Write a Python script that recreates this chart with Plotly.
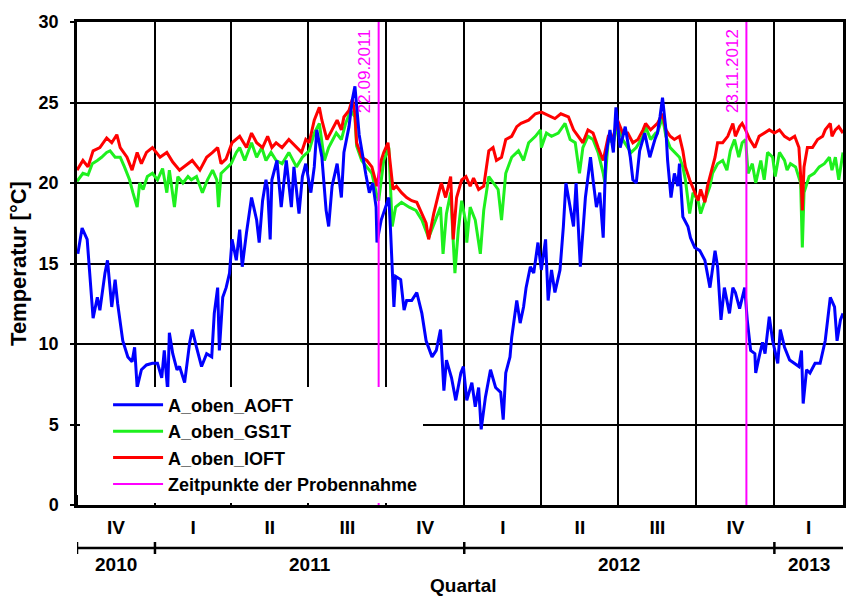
import pandas as pd
import plotly.graph_objects as go

START = "2010-10-01"          # first day shown on the time axis
N_DAYS = 904                  # length of the visible period (days)

# ---- A_oben_AOFT (blue): day offset from START, temperature [°C]
aoft_day = [1, 6, 12, 15, 19, 24, 27, 33, 36, 41, 45, 48, 54, 60, 65, 68, 71, 76, 82, 89,
            95, 100, 103, 107, 109, 113, 118, 121, 127, 133, 136, 141, 147, 153, 159, 162, 166, 168, 172, 176,
            180, 183, 188, 192, 195, 200, 206, 212, 215, 219, 223, 225, 228, 230, 236, 241, 247, 253, 256, 262,
            266, 270, 276, 280, 283, 289, 294, 297, 301, 307, 312, 315, 321, 325, 328, 333, 336, 341, 345, 349,
            353, 354, 359, 365, 368, 370, 374, 376, 382, 386, 389, 395, 401, 407, 412, 419, 424, 429, 433, 436,
            442, 447, 453, 456, 460, 466, 470, 474, 477, 482, 488, 494, 500, 503, 506, 511, 513, 519, 523, 527,
            530, 535, 539, 544, 548, 553, 556, 560, 564, 570, 574, 577, 582, 586, 589, 594, 600, 606, 609, 613,
            617, 621, 624, 629, 633, 636, 641, 647, 653, 656, 660, 664, 670, 676, 682, 685, 688, 691, 695, 697,
            701, 705, 709, 711, 715, 721, 724, 729, 735, 741, 747, 753, 756, 760, 764, 770, 774, 777, 782, 785,
            788, 791, 795, 800, 801, 805, 809, 812, 817, 821, 827, 830, 835, 841, 847, 852, 855, 857, 861, 865,
            871, 877, 883, 889, 894, 897, 901, 904]
aoft_val = [15.6, 17.2, 16.5, 14.6, 11.6, 12.9, 12.1, 14.4, 15.2, 12.3, 14.0, 12.5, 10.2, 9.2, 8.9, 9.8, 7.3, 8.4, 8.7, 8.8,
            8.8, 7.9, 9.6, 7.1, 10.7, 9.4, 8.4, 8.6, 7.6, 10.1, 10.9, 9.8, 8.6, 9.4, 9.2, 11.9, 13.5, 9.6, 12.9, 13.5,
            14.4, 16.5, 15.2, 17.1, 14.8, 16.9, 19.1, 17.7, 16.3, 18.9, 20.2, 19.6, 16.5, 20.2, 21.4, 18.5, 21.4, 18.5, 21.0, 18.1,
            20.4, 21.2, 19.4, 21.0, 23.3, 21.6, 18.3, 17.3, 19.8, 21.2, 19.1, 21.9, 23.5, 25.2, 26.0, 23.0, 22.0, 20.5, 19.4, 20.0,
            18.5, 16.3, 17.7, 18.7, 19.1, 17.1, 12.3, 14.2, 14.0, 12.1, 12.7, 12.7, 13.2, 11.9, 10.2, 9.2, 9.6, 10.9, 7.1, 9.0,
            7.9, 6.5, 8.2, 8.6, 6.5, 7.6, 6.1, 7.3, 4.7, 6.7, 8.4, 7.3, 7.0, 5.3, 8.2, 9.2, 10.4, 12.7, 11.3, 12.3,
            13.5, 14.8, 14.4, 16.3, 14.6, 16.5, 12.7, 14.6, 13.2, 14.6, 17.3, 20.0, 18.5, 17.3, 20.0, 14.8, 19.1, 21.6, 20.2, 18.5,
            19.4, 16.6, 21.6, 23.3, 21.9, 24.7, 22.2, 23.5, 21.6, 20.2, 20.0, 22.0, 23.1, 21.6, 22.7, 23.1, 24.1, 25.3, 23.3, 21.4,
            19.1, 20.6, 19.8, 21.2, 17.9, 17.3, 16.6, 16.0, 15.8, 15.2, 13.5, 15.8, 14.8, 11.5, 13.5, 11.9, 13.5, 13.2, 12.2, 12.9,
            13.5, 11.5, 9.6, 9.4, 8.2, 9.2, 10.1, 9.4, 11.7, 10.2, 8.8, 10.9, 9.8, 9.0, 8.8, 8.6, 9.6, 6.3, 8.4, 8.2,
            8.8, 8.8, 10.2, 12.9, 12.3, 10.2, 11.5, 11.9]

# ---- A_oben_GS1T (green)
gs1t_day = [0, 7, 13, 18, 24, 29, 35, 39, 45, 51, 56, 62, 66, 71, 74, 78, 83, 89, 95, 101,
            106, 109, 115, 119, 125, 131, 135, 141, 148, 154, 160, 165, 167, 170, 176, 182, 188, 192, 198, 206,
            212, 218, 223, 229, 235, 242, 250, 259, 266, 274, 280, 286, 292, 297, 306, 312, 317, 323, 328, 330,
            336, 342, 348, 354, 356, 362, 368, 372, 376, 383, 392, 400, 407, 415, 423, 429, 432, 436, 441, 446,
            450, 454, 459, 460, 464, 470, 476, 480, 486, 491, 497, 501, 506, 513, 521, 527, 533, 541, 547, 548,
            554, 560, 568, 576, 582, 588, 593, 597, 603, 609, 615, 621, 623, 627, 633, 638, 644, 650, 654, 660,
            668, 671, 677, 683, 685, 691, 695, 700, 705, 711, 715, 718, 723, 727, 733, 736, 741, 747, 750, 756,
            762, 767, 771, 776, 781, 785, 789, 792, 797, 801, 807, 811, 815, 821, 824, 829, 835, 838, 842, 848,
            854, 856, 858, 864, 870, 876, 882, 888, 891, 895, 899, 904]
gs1t_val = [20.1, 20.6, 20.5, 21.2, 21.4, 21.6, 21.9, 22.0, 21.6, 21.6, 21.0, 20.2, 19.4, 18.5, 20.0, 19.6, 20.4, 20.6, 20.2, 20.9,
            19.4, 20.8, 18.5, 20.4, 20.0, 20.4, 20.2, 20.4, 19.4, 20.2, 20.8, 20.2, 18.5, 20.6, 20.9, 21.2, 21.9, 22.2, 21.4, 22.5,
            21.6, 22.2, 21.4, 21.9, 21.4, 21.2, 21.9, 21.0, 21.6, 22.0, 23.1, 23.7, 21.4, 22.2, 23.1, 22.7, 23.7, 24.5, 24.1, 22.3,
            21.4, 21.0, 20.6, 19.2, 18.9, 21.4, 22.2, 17.3, 18.5, 18.8, 18.5, 18.3, 17.7, 16.6, 17.7, 18.5, 15.6, 18.1, 19.4, 14.4,
            17.1, 18.9, 17.5, 16.3, 18.5, 17.7, 15.6, 18.3, 20.4, 20.0, 19.6, 17.7, 20.6, 21.6, 22.0, 21.4, 22.5, 22.9, 23.3, 22.2,
            23.1, 22.9, 23.1, 23.7, 22.7, 22.5, 20.6, 22.2, 22.9, 22.7, 21.9, 20.6, 20.0, 22.7, 22.5, 23.7, 22.7, 22.2, 21.9, 22.2,
            22.9, 23.5, 22.7, 23.1, 23.1, 24.1, 22.9, 22.2, 21.9, 21.6, 21.0, 20.2, 18.1, 19.4, 18.9, 18.1, 18.9, 19.8, 20.6, 21.2,
            21.4, 20.8, 22.0, 22.7, 21.6, 22.5, 22.7, 20.6, 21.2, 20.0, 21.4, 20.2, 21.9, 21.6, 20.4, 21.9, 21.4, 20.8, 21.2, 21.0,
            20.0, 16.0, 19.4, 20.4, 20.6, 21.0, 21.2, 21.6, 20.8, 21.6, 20.2, 21.9]

# ---- A_oben_IOFT (red)
ioft_day = [0, 7, 13, 19, 27, 35, 41, 47, 51, 59, 65, 71, 76, 82, 89, 98, 106, 113, 121, 129,
            136, 145, 153, 160, 166, 170, 176, 183, 192, 200, 206, 212, 219, 225, 230, 235, 242, 250, 259, 265,
            270, 274, 280, 286, 289, 295, 301, 307, 312, 315, 321, 325, 328, 330, 336, 342, 348, 354, 359, 362,
            367, 370, 373, 377, 383, 389, 395, 401, 407, 412, 415, 421, 427, 430, 435, 441, 444, 448, 454, 459,
            464, 468, 474, 480, 486, 491, 495, 501, 506, 513, 519, 524, 533, 541, 548, 556, 564, 571, 580, 586,
            591, 597, 603, 609, 615, 621, 627, 633, 638, 644, 650, 656, 662, 668, 671, 677, 685, 691, 695, 700,
            705, 711, 715, 718, 723, 729, 733, 736, 741, 744, 748, 753, 756, 762, 768, 774, 777, 782, 785, 789,
            794, 800, 805, 811, 817, 823, 829, 835, 841, 847, 852, 855, 856, 858, 862, 868, 874, 880, 883, 889,
            891, 895, 899, 904]
ioft_val = [20.8, 21.4, 21.0, 22.0, 22.2, 22.8, 22.5, 23.0, 22.2, 21.6, 20.8, 21.9, 21.2, 21.9, 22.2, 21.6, 21.9, 21.3, 20.8, 21.1,
            21.4, 20.8, 21.6, 21.9, 22.2, 21.2, 21.5, 22.5, 22.9, 22.2, 23.1, 22.5, 22.2, 22.9, 22.2, 22.5, 22.2, 22.7, 22.2, 21.9,
            22.7, 22.5, 23.9, 24.7, 23.9, 22.7, 23.3, 23.9, 23.3, 24.1, 24.5, 25.2, 24.3, 22.5, 21.6, 21.4, 21.0, 19.8, 21.4, 21.9,
            22.5, 21.2, 19.6, 19.8, 19.4, 19.1, 18.9, 18.8, 18.1, 17.5, 16.5, 18.1, 19.4, 20.0, 19.1, 20.4, 16.5, 19.1, 20.2, 20.4,
            19.8, 20.3, 19.6, 19.8, 22.0, 22.2, 21.4, 21.6, 22.7, 22.9, 23.5, 23.7, 23.9, 24.3, 24.4, 24.2, 24.0, 24.3, 24.1, 23.3,
            22.9, 22.5, 23.3, 23.1, 22.2, 21.4, 22.9, 22.9, 23.9, 23.1, 23.1, 22.5, 22.7, 23.3, 23.7, 23.3, 23.7, 24.3, 23.3, 22.9,
            22.7, 22.9, 22.0, 21.0, 20.2, 19.4, 18.9, 19.6, 18.8, 19.8, 20.6, 21.6, 22.5, 22.5, 22.9, 23.7, 22.9, 23.5, 23.7, 23.3,
            22.7, 22.2, 22.9, 23.1, 23.3, 23.1, 23.3, 22.9, 22.7, 22.9, 22.2, 19.6, 18.3, 21.0, 22.2, 22.2, 22.7, 22.9, 23.3, 23.7,
            22.9, 23.3, 23.5, 23.1]

# ---- sampling times (Zeitpunkte der Probennahme)
sample_dates = ["2011-09-22", "2012-11-29"]
sample_labels = ["22.09.2011", "23.11.2012"]

# ---- axis labels
quarter_labels = ["IV", "I", "II", "III", "IV", "I", "II", "III", "IV", "I"]
year_labels = ["2010", "2011", "2012", "2013"]
y_ticks = [0, 5, 10, 15, 20, 25, 30]

t0 = pd.Timestamp(START)
t_end = t0 + pd.Timedelta(days=N_DAYS)


def to_dates(days):
    return [t0 + pd.Timedelta(days=d) for d in days]


FONT = "Liberation Sans, Arial, sans-serif"
fig = go.Figure()

fig.add_trace(go.Scatter(x=to_dates(gs1t_day), y=gs1t_val, mode="lines", name="A_oben_GS1T",
                         line=dict(color="#1EF01E", width=3), legendrank=2))
fig.add_trace(go.Scatter(x=to_dates(ioft_day), y=ioft_val, mode="lines", name="A_oben_IOFT",
                         line=dict(color="#FF0000", width=3), legendrank=3))
fig.add_trace(go.Scatter(x=to_dates(aoft_day), y=aoft_val, mode="lines", name="A_oben_AOFT",
                         line=dict(color="#0000FF", width=3), legendrank=1))

sx, sy = [], []
for d in sample_dates:
    sx += [pd.Timestamp(d), pd.Timestamp(d), None]
    sy += [y_ticks[0], y_ticks[-1], None]
fig.add_trace(go.Scatter(x=sx, y=sy, mode="lines", name="Zeitpunkte der Probennahme",
                         line=dict(color="#FF00FF", width=2), legendrank=4))

for d, lab in zip(sample_dates, sample_labels):
    fig.add_annotation(x=pd.Timestamp(d), y=1, xref="x", yref="paper", text=lab, textangle=-90,
                       showarrow=False, xanchor="right", yanchor="top", xshift=-3, yshift=-5,
                       font=dict(family=FONT, size=17, color="#FF00FF", weight="normal"))

# quarter boundaries and centres
q_starts = list(pd.date_range(t0, periods=len(quarter_labels) + 1, freq="QS"))
q_mid = []
for a, b in zip(q_starts[:-1], q_starts[1:]):
    b = min(b, t_end)
    q_mid.append(a + (b - a) / 2)

# year bracket row under the quarters
y_starts = [max(t0, pd.Timestamp(f"{y}-01-01")) for y in year_labels]
y_ends = [min(t_end, pd.Timestamp(f"{int(y) + 1}-01-01")) for y in year_labels]
YB = -0.089
fig.add_shape(type="line", xref="x", yref="paper", x0=t0, x1=t_end, y0=YB, y1=YB,
              line=dict(color="black", width=2.5))
for s in y_starts:
    fig.add_shape(type="line", xref="x", yref="paper", x0=s, x1=s, y0=-6, y1=6,
                  ysizemode="pixel", yanchor=YB, line=dict(color="black", width=2.5))
for lab, a, b in zip(year_labels, y_starts, y_ends):
    fig.add_annotation(x=a + (b - a) / 2, y=YB, xref="x", yref="paper", text=lab, showarrow=False,
                       yanchor="top", yshift=-4, font=dict(family=FONT, size=19, color="black"))

fig.add_annotation(x=0.505, y=-0.193, xref="paper", yref="paper", text="Quartal", showarrow=False,
                   font=dict(family=FONT, size=19, color="black"))

fig.update_layout(
    width=846, height=599,
    margin=dict(l=77, r=0, t=22, b=94),
    paper_bgcolor="white", plot_bgcolor="white",
    font=dict(family=FONT, size=18, color="black", weight="bold"),
    showlegend=True,
    legend=dict(x=0.004, y=0.005, xanchor="left", yanchor="bottom", bgcolor="white",
                borderwidth=0, font=dict(family=FONT, size=18, color="black", weight="bold"),
                indentation=28, itemwidth=50, tracegroupgap=0),
    xaxis=dict(type="date", range=[t0, t_end], showgrid=False,
               tickmode="array", tickvals=q_mid, ticktext=quarter_labels, ticks="",
               tickfont=dict(family=FONT, size=19, color="black"), ticklabelstandoff=3,
               showline=True, linecolor="black", linewidth=2.5, mirror=True,
               minor=dict(tickmode="array", tickvals=q_starts, showgrid=True, gridcolor="black",
                          gridwidth=1.5, ticks="inside", ticklen=10, tickwidth=1.5, tickcolor="black"),
               zeroline=False),
    yaxis=dict(range=[0, 30], tickmode="array", tickvals=y_ticks, showgrid=True, gridcolor="black",
               gridwidth=1.5, ticks="outside", ticklen=4, tickwidth=1.5, tickcolor="black",
               showline=True, linecolor="black", linewidth=2.5, mirror=True, zeroline=False,
               tickfont=dict(family=FONT, size=18, color="black"), ticklabelstandoff=8,
               title=dict(text="Temperatur [°C]", standoff=6,
                          font=dict(family=FONT, size=22, color="black"))),
)

fig.write_html("out.html")
